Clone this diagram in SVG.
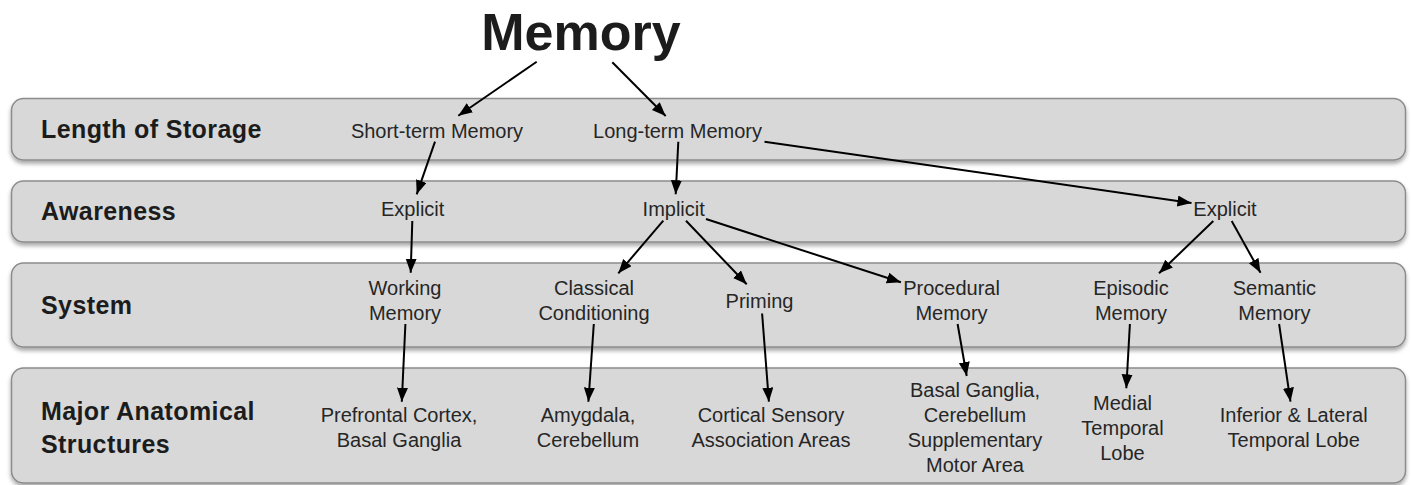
<svg xmlns="http://www.w3.org/2000/svg" width="1411" height="485" viewBox="0 0 1411 485">
<defs>
<filter id="sh" x="-5%" y="-20%" width="110%" height="150%">
<feDropShadow dx="0" dy="3" stdDeviation="2.2" flood-color="#000" flood-opacity="0.35"/>
</filter>
<marker id="ah" markerUnits="userSpaceOnUse" markerWidth="16" markerHeight="12" refX="14" refY="5.5" orient="auto">
<path d="M0,0 L14,5.5 L0,11 z" fill="#000"/>
</marker>
</defs>
<style>
.band{fill:#d8d8d8;stroke:#8c8c8c;stroke-width:1.5;filter:url(#sh)}
.lab{font-family:"Liberation Sans",Arial,sans-serif;font-weight:bold;font-size:25px;letter-spacing:0.4px;fill:#1c1c1c}
.t{font-family:"Liberation Sans",Arial,sans-serif;font-size:20px;fill:#262626;text-anchor:middle}
.title{font-family:"Liberation Sans",Arial,sans-serif;font-weight:bold;font-size:52px;fill:#1c1c1c;text-anchor:middle}
.c{fill:none;stroke:#000;stroke-width:2;marker-end:url(#ah)}
</style>
<rect width="1411" height="485" fill="#fff"/>
<g id="lane-storage">
<rect class="band" x="11.5" y="98.5" width="1394" height="61.5" rx="12"/>
<text class="lab" x="41" y="138">Length of Storage</text>
</g>
<g id="lane-awareness">
<rect class="band" x="11.5" y="181" width="1394" height="61" rx="12"/>
<text class="lab" x="41" y="219.5">Awareness</text>
</g>
<g id="lane-system">
<rect class="band" x="11.5" y="263" width="1394" height="84" rx="12"/>
<text class="lab" x="41" y="314">System</text>
</g>
<g id="lane-structures">
<rect class="band" x="11.5" y="368" width="1394" height="115" rx="12"/>
<text class="lab" x="41" y="420">Major Anatomical</text>
<text class="lab" x="41" y="453">Structures</text>
</g>
<g id="connectors">
<line class="c" x1="536.7" y1="61.7" x2="458.3" y2="115.7"/>
<line class="c" x1="612.3" y1="62.3" x2="665.7" y2="116"/>
<line class="c" x1="435" y1="141.7" x2="416.7" y2="194.3"/>
<line class="c" x1="678.3" y1="141.7" x2="675.7" y2="194.3"/>
<line class="c" x1="764.5" y1="141.7" x2="1191.5" y2="203"/>
<line class="c" x1="412.3" y1="221" x2="410.7" y2="272.7"/>
<line class="c" x1="663.3" y1="220.7" x2="618.3" y2="273.3"/>
<line class="c" x1="686" y1="220.7" x2="746.7" y2="284.3"/>
<line class="c" x1="706" y1="219" x2="900.9" y2="282.3"/>
<line class="c" x1="1213.3" y1="221" x2="1159" y2="273.3"/>
<line class="c" x1="1231.7" y1="221" x2="1260.5" y2="272.8"/>
<line class="c" x1="405.4" y1="324" x2="401.8" y2="401.7"/>
<line class="c" x1="593.8" y1="324" x2="588.4" y2="401.7"/>
<line class="c" x1="762.1" y1="313.5" x2="768.9" y2="401.7"/>
<line class="c" x1="957.6" y1="324" x2="966.7" y2="376"/>
<line class="c" x1="1129.9" y1="324" x2="1126.3" y2="388.3"/>
<line class="c" x1="1279.1" y1="324" x2="1290.5" y2="401.7"/>
</g>
<g id="memory"><text class="title" x="581" y="50">Memory</text></g>
<g id="short-term"><text class="t" x="437" y="137.5">Short-term Memory</text></g>
<g id="long-term"><text class="t" x="677.5" y="137.5">Long-term Memory</text></g>
<g id="explicit-1"><text class="t" x="412.7" y="216">Explicit</text></g>
<g id="implicit"><text class="t" x="673.7" y="216">Implicit</text></g>
<g id="explicit-2"><text class="t" x="1225" y="216">Explicit</text></g>
<g id="working"><text class="t" x="405" y="295">Working<tspan x="405" dy="25">Memory</tspan></text></g>
<g id="classical"><text class="t" x="594" y="295">Classical<tspan x="594" dy="25">Conditioning</tspan></text></g>
<g id="priming"><text class="t" x="759.5" y="308">Priming</text></g>
<g id="procedural"><text class="t" x="951.5" y="295">Procedural<tspan x="951.5" dy="25">Memory</tspan></text></g>
<g id="episodic"><text class="t" x="1131" y="295">Episodic<tspan x="1131" dy="25">Memory</tspan></text></g>
<g id="semantic"><text class="t" x="1274.4" y="295">Semantic<tspan x="1274.4" dy="25">Memory</tspan></text></g>
<g id="prefrontal"><text class="t" x="399" y="421.5">Prefrontal Cortex,<tspan x="399" dy="25">Basal Ganglia</tspan></text></g>
<g id="amygdala"><text class="t" x="588" y="421.5">Amygdala,<tspan x="588" dy="25">Cerebellum</tspan></text></g>
<g id="cortical"><text class="t" x="771" y="421.5">Cortical Sensory<tspan x="771" dy="25">Association Areas</tspan></text></g>
<g id="basal"><text class="t" x="975" y="396.7">Basal Ganglia,<tspan x="975" dy="25">Cerebellum</tspan><tspan x="975" dy="25">Supplementary</tspan><tspan x="975" dy="25">Motor Area</tspan></text></g>
<g id="medial"><text class="t" x="1122.5" y="409.5">Medial<tspan x="1122.5" dy="25">Temporal</tspan><tspan x="1122.5" dy="25">Lobe</tspan></text></g>
<g id="inferior"><text class="t" x="1293.7" y="421.5">Inferior &amp; Lateral<tspan x="1293.7" dy="25">Temporal Lobe</tspan></text></g>
</svg>
